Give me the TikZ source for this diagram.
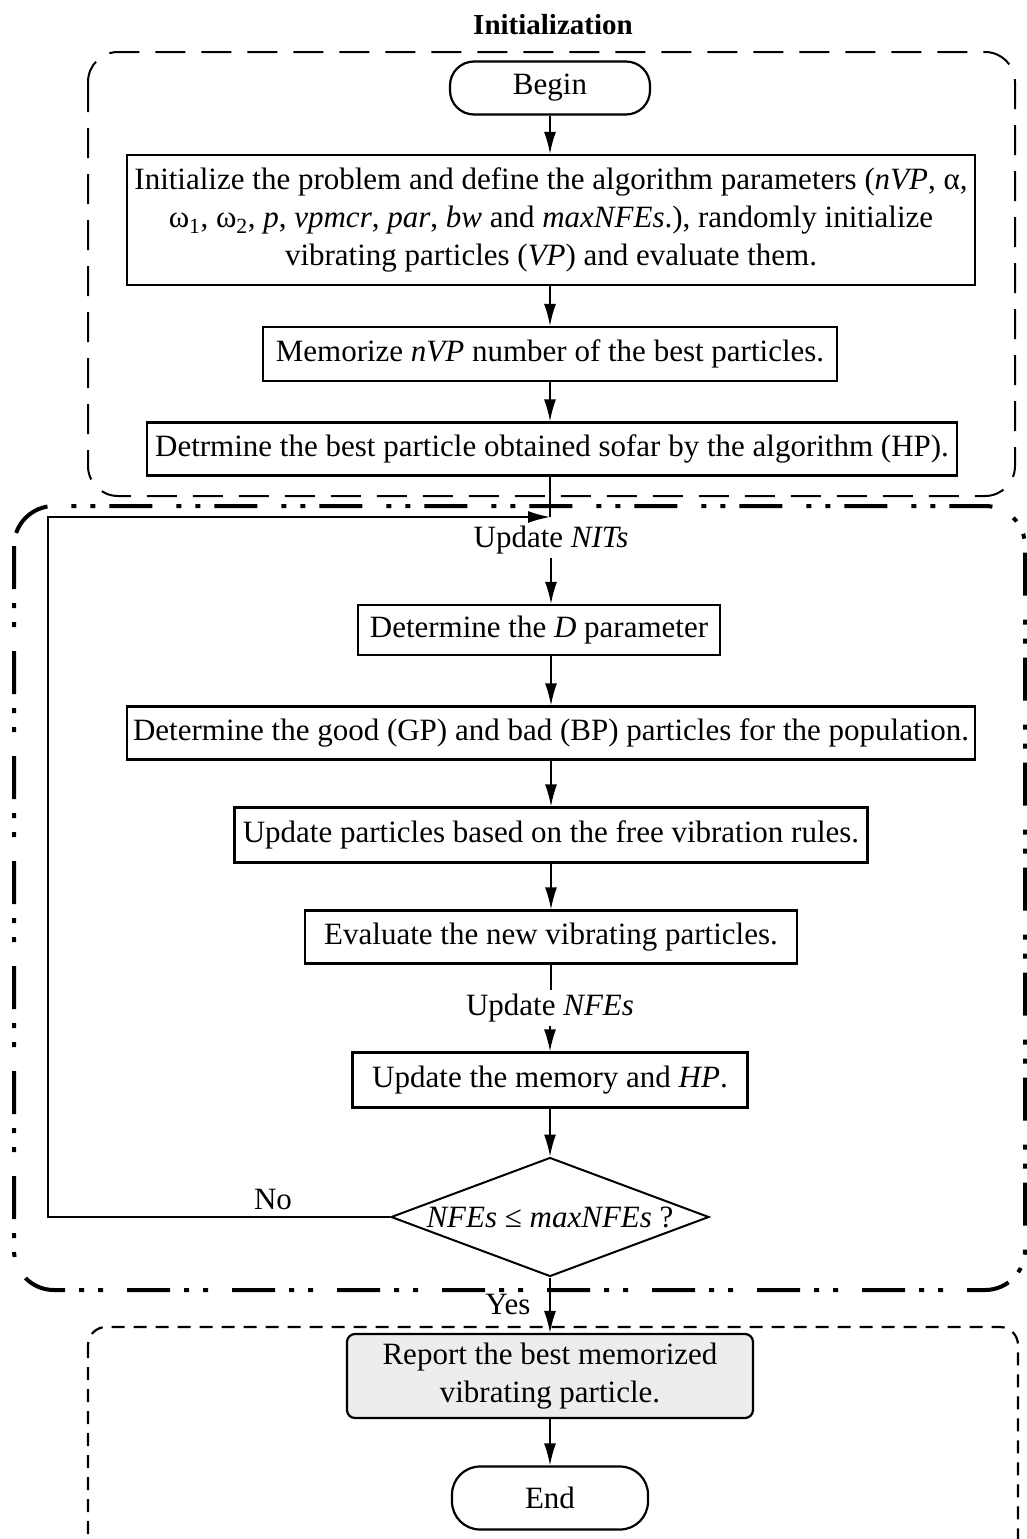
\documentclass[tikz,border=0pt]{standalone}
\usepackage{fontspec}
\setmainfont{Liberation Serif}
\usetikzlibrary{shapes.geometric,arrows.meta}
\begin{document}
\begin{tikzpicture}[x=1pt,y=-1pt,
  every node/.style={font=\fontsize{31}{38}\selectfont},
  box/.style={draw, line width=2.2pt, inner sep=0pt, align=center},
  term/.style={draw, line width=2.2pt, rounded corners=24pt, inner sep=0pt},
  conn/.style={line width=1.6pt, -{Latex[length=22pt,width=12pt]}},
  plainline/.style={line width=1.6pt},
  frameA/.style={line width=2pt, dash pattern=on 30pt off 16pt, rounded corners=30pt},
  frameB/.style={line width=4pt, dash pattern=on 43pt off 14pt on 5pt off 14pt on 5pt off 24pt, rounded corners=40pt},
  frameC/.style={line width=2.2pt, dash pattern=on 13pt off 9pt, rounded corners=18pt}]
\useasboundingbox (0,0) rectangle (1027,1539);
\begin{scope}
\clip (0,0) rectangle (1027,1539);
% frames
\draw[frameA] (88,52) rectangle (1015,496);
\draw[frameB] (14,506) rectangle (1025,1290);
\draw[frameC] (88,1327) rectangle (1018,1580);
\end{scope}

\node[font=\fontsize{29}{32}\selectfont\bfseries] (title) at (553,25) {Initialization};

\node[term, minimum width=200pt, minimum height=53pt] (begin) at (550,88) {Begin};
\node[box, minimum width=848pt, minimum height=130pt] (init) at (551,220)
  {Initialize the problem and define the algorithm parameters (\textit{nVP}, α,\\
   ω\textsubscript{1}, ω\textsubscript{2}, \textit{p}, \textit{vpmcr}, \textit{par}, \textit{bw} and \textit{maxNFEs}.), randomly initialize\\
   vibrating particles (\textit{VP}) and evaluate them.};
\node[box, minimum width=574pt, minimum height=54pt] (mem) at (550,354) {Memorize \textit{nVP} number of the best particles.};
\node[box, minimum width=810pt, minimum height=53pt] (hp) at (552,449) {Detrmine the best particle obtained sofar by the algorithm (HP).};
\coordinate (join) at (550,517);
\node (nits) at (551,540) {Update \textit{NITs}};
\node[box, minimum width=362pt, minimum height=50pt] (dpar) at (539,630) {Determine the \textit{D} parameter};
\node[box, minimum width=848pt, minimum height=53pt] (gp) at (551,733) {Determine the good (GP) and bad (BP) particles for the population.};
\node[box, minimum width=633pt, minimum height=55pt] (upd) at (551,835) {Update particles based on the free vibration rules.};
\node[box, minimum width=492pt, minimum height=53pt] (eval) at (551,937) {Evaluate the new vibrating particles.};
\node (nfes) at (550,1008) {Update \textit{NFEs}};
\node[box, minimum width=395pt, minimum height=55pt] (mem2) at (550,1080) {Update the memory and \textit{HP}.};
\node[draw, diamond, line width=2pt, inner xsep=-10pt, inner ysep=-4pt, aspect=2.67, minimum width=318pt, minimum height=119pt] (dec) at (550,1217) {\textit{NFEs} ≤ \textit{maxNFEs} ?};
\node (no) at (273,1199) {No};
\node (yes) at (508,1304) {Yes};
\node[box, rounded corners=8pt, fill=gray!14, minimum width=406pt, minimum height=84pt] (rep) at (550,1376) {Report the best memorized\\vibrating particle.};
\node[term, minimum width=196pt, minimum height=63pt, rounded corners=28pt] (end) at (550,1498) {End};

\coordinate (lb) at (48,1217);
\coordinate (lt) at (48,517);

% connectors
\draw[conn] (begin.south) -- (begin.south |- init.north);
\draw[conn] (mem.north |- init.south) -- (mem.north);
\draw[conn] (mem.south) -- (mem.south |- hp.north);
\draw[plainline] (join |- hp.south) -- (join);
\draw[conn] (nits.south) -- (nits.south |- dpar.north);
\draw[conn] (gp.north |- dpar.south) -- (gp.north);
\draw[conn] (gp.south) -- (upd.north);
\draw[conn] (upd.south) -- (eval.north);
\draw[plainline] (eval.south) -- (eval.south |- nfes.north);
\draw[conn] (nfes.south) -- (nfes.south |- mem2.north);
\draw[conn] (mem2.south) -- (dec.north);
\draw[conn] (dec.west) -- (lb) -- (lt) -- (join);
\draw[conn] (dec.south) -- (rep.north);
\draw[conn] (rep.south) -- (end.north);
\end{tikzpicture}
\end{document}
